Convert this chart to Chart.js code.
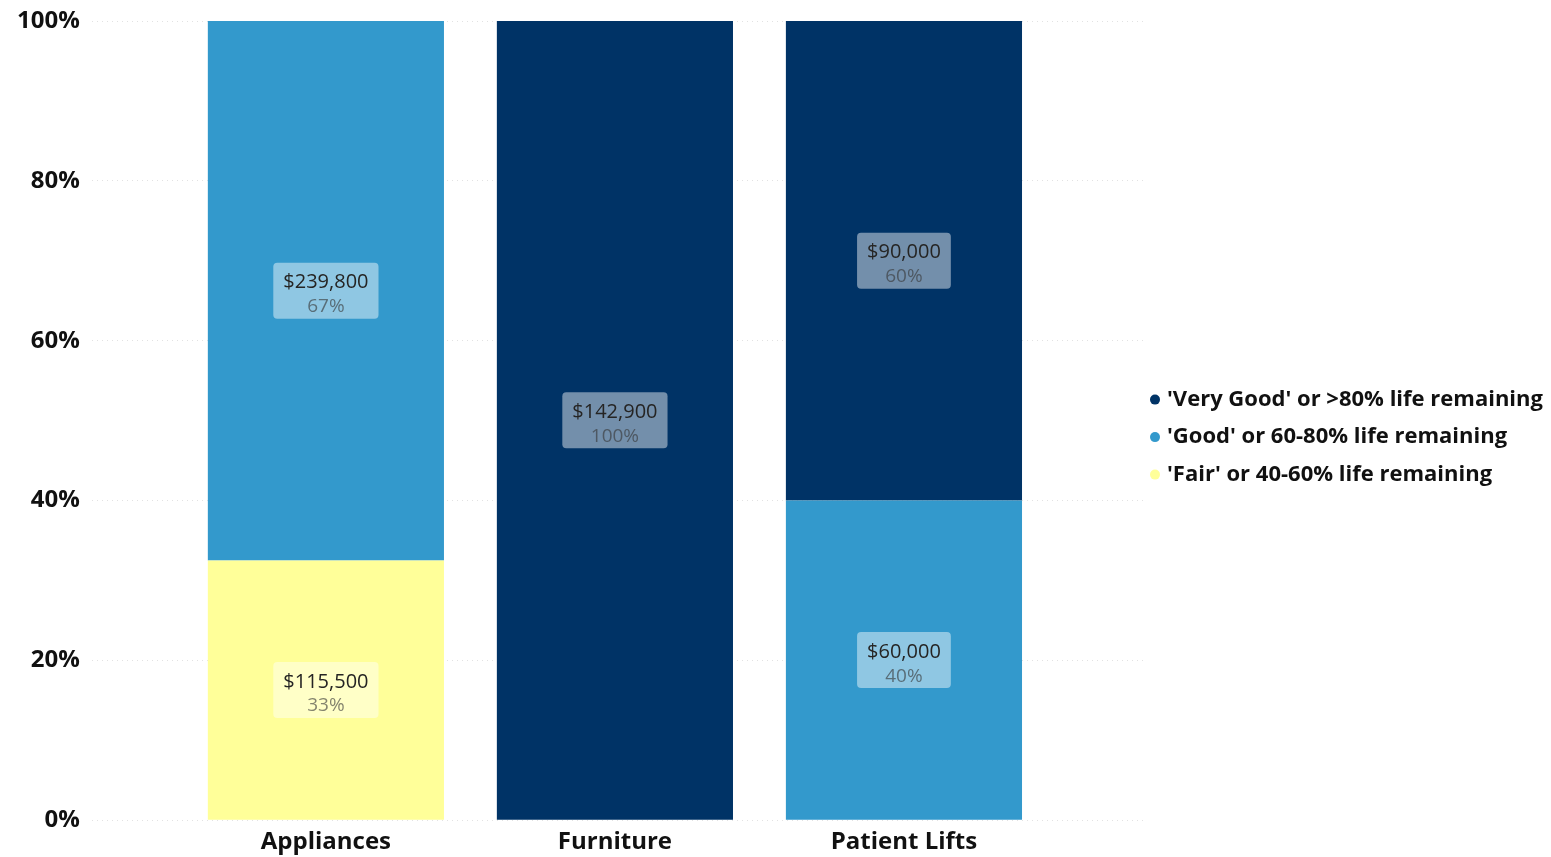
<!DOCTYPE html>
<html>
<head>
<meta charset="utf-8">
<script src="https://cdn.jsdelivr.net/npm/chart.js@4/dist/chart.umd.min.js"></script>
<style>
  html, body { margin: 0; padding: 0; background: #ffffff; }
  #wrap { width: 1551px; height: 857px; }
</style>
</head>
<body>
<div id="wrap"><canvas id="chart" width="1551" height="857"></canvas></div>
<script>
// Asset condition by category (replacement value, $)
const categories = ['Appliances', 'Furniture', 'Patient Lifts'];
const veryGoodValues = [0, 142900, 90000];
const goodValues = [239800, 0, 60000];
const fairValues = [115500, 0, 0];
const seriesNames = [
  "'Fair' or 40-60% life remaining",
  "'Good' or 60-80% life remaining",
  "'Very Good' or >80% life remaining"
];
const seriesColors = ['#FFFF99', '#3399CC', '#003366'];
const yTickValues = [0, 20, 40, 60, 80, 100];

const FONT = "'Open Sans', 'DejaVu Sans', sans-serif";

// 100% stacked: each segment is its share of the category total
const totals = categories.map((_, i) => veryGoodValues[i] + goodValues[i] + fairValues[i]);
const seriesValues = [fairValues, goodValues, veryGoodValues];

const datasets = seriesValues.map((vals, s) => ({
  label: seriesNames[s],
  backgroundColor: seriesColors[s],
  borderWidth: 0,
  amounts: vals,
  data: vals.map((v, i) => ({ x: i + 1, y: totals[i] ? v / totals[i] * 100 : 0 }))
}));

// Value boxes drawn in the middle of each segment
const segmentLabels = {
  id: 'segmentLabels',
  afterDatasetsDraw(chart) {
    const ctx = chart.ctx;
    chart.data.datasets.forEach((ds, di) => {
      const meta = chart.getDatasetMeta(di);
      if (meta.hidden) return;
      meta.data.forEach((el, j) => {
        const amount = ds.amounts[j];
        if (!amount) return;
        const p = el.getProps(['x', 'y', 'base'], true);
        const cx = p.x;
        const cy = (p.y + p.base) / 2;
        const line1 = '$' + amount.toLocaleString('en-US');
        const line2 = Math.round(ds.data[j].y) + '%';
        ctx.save();
        ctx.font = '20px ' + FONT;
        const w1 = ctx.measureText(line1).width;
        ctx.font = '19px ' + FONT;
        const w2 = ctx.measureText(line2).width;
        const bw = Math.max(w1, w2) + 20;
        const bh = 56;
        ctx.fillStyle = 'rgba(255,255,255,0.45)';
        ctx.beginPath();
        ctx.roundRect(cx - bw / 2, cy - bh / 2, bw, bh, 4);
        ctx.fill();
        ctx.textAlign = 'center';
        ctx.textBaseline = 'middle';
        ctx.font = '20px ' + FONT;
        ctx.fillStyle = '#252423';
        ctx.fillText(line1, cx, cy - 8);
        ctx.font = '19px ' + FONT;
        ctx.fillStyle = 'rgba(55,55,55,0.62)';
        ctx.fillText(line2, cx, cy + 16);
        ctx.restore();
      });
    });
  }
};

// Legend at the right, listed top series first
const sideLegend = {
  id: 'sideLegend',
  afterDraw(chart) {
    const ctx = chart.ctx;
    const area = chart.chartArea;
    const x0 = area.right + 10;
    const rowH = 37.5;
    const items = chart.data.datasets.slice().reverse();
    const yStart = (area.top + area.bottom) / 2 - rowH * (items.length - 1) / 2 + 16.5;
    ctx.save();
    ctx.font = 'bold 22px ' + FONT;
    ctx.textBaseline = 'middle';
    ctx.textAlign = 'left';
    items.forEach((ds, k) => {
      const y = yStart + k * rowH;
      ctx.fillStyle = ds.backgroundColor;
      ctx.beginPath();
      ctx.arc(x0, y, 5, 0, Math.PI * 2);
      ctx.fill();
      ctx.fillStyle = '#111111';
      ctx.fillText(ds.label, x0 + 12, y);
    });
    ctx.restore();
  }
};

new Chart(document.getElementById('chart'), {
  type: 'bar',
  data: { datasets },
  plugins: [segmentLabels, sideLegend],
  options: {
    responsive: false,
    animation: false,
    layout: { padding: { top: 1, left: 5, right: 406, bottom: -8 } },
    datasets: { bar: { categoryPercentage: 1, barPercentage: 0.817 } },
    plugins: {
      tooltip: { enabled: false },
      legend: { display: false }
    },
    scales: {
      x: {
        type: 'linear',
        stacked: true,
        offset: false,
        min: 0.19,
        max: 3.834,
        afterBuildTicks(scale) { scale.ticks = categories.map((_, i) => ({ value: i + 1 })); },
        ticks: {
          autoSkip: false,
          maxRotation: 0,
          padding: 8,
          color: '#111111',
          font: { family: FONT, size: 24, weight: 'bold' },
          callback: (v) => categories[v - 1]
        },
        grid: { display: false, drawTicks: false },
        border: { display: false }
      },
      y: {
        stacked: true,
        min: 0,
        max: 100,
        afterBuildTicks(scale) { scale.ticks = yTickValues.map(v => ({ value: v })); },
        ticks: {
          padding: 12,
          color: '#111111',
          font: { family: FONT, size: 24, weight: 'bold', lineHeight: 0.75 },
          callback: (v) => v + '%'
        },
        grid: { color: '#e2e2e2', lineWidth: 1, drawTicks: false },
        border: { display: false, dash: [1, 4] }
      }
    }
  }
});
</script>
</body>
</html>
